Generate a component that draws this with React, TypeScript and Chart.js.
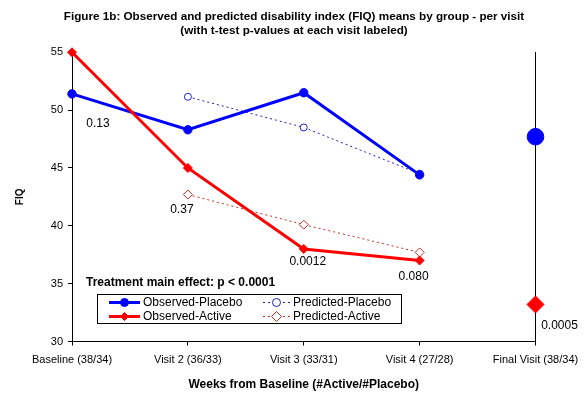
import React, { useEffect, useRef } from 'react';
import { Chart, registerables } from 'chart.js';

Chart.register(...registerables);

// ---- data ----
const categories = ['Baseline (38/34)', 'Visit 2 (36/33)', 'Visit 3 (33/31)', 'Visit 4 (27/28)', 'Final Visit (38/34)'];
const observedPlacebo = [51.4, 48.3, 51.5, 44.4, null];
const observedActive = [55.0, 45.0, 38.0, 37.0, null];
const predictedPlacebo = [null, 51.15, 48.5, 44.5, null];
const predictedActive = [null, 42.7, 40.1, 37.7, null];
const finalPlacebo = [null, null, null, null, 47.7];
const finalActive = [null, null, null, null, 33.2];
const pValueLabels = ['0.13', '0.37', '0.0012', '0.080', '0.0005'];
const pValueLevels = [48.8, 41.4, 36.9, 35.6, 31.4];
const pValueShift = [26, -6, 4, -6, 24];
const yMin = 30;
const yMax = 55;
const yStep = 5;
const mainEffectText = 'Treatment main effect: p < 0.0001';
const mainEffectLevel = 35.1;
const titleLines = [
  'Figure 1b: Observed and predicted disability index (FIQ) means by group - per visit',
  '(with t-test p-values at each visit labeled)',
];
const xTitle = 'Weeks from Baseline (#Active/#Placebo)';
const yTitle = 'FIQ';

const NARROW = '"Liberation Sans Narrow", "Arial Narrow", "Liberation Sans", Arial, sans-serif';
const SANS = '"Liberation Sans", Arial, sans-serif';

const BLUE = '#0000FF';
const RED = '#FF0000';
const PBLUE = '#2020C8';
const PRED = '#D02828';

const legendItems = [
  { label: 'Observed-Placebo', color: BLUE, dash: [] as number[], width: 3, style: 'circle', fill: true },
  { label: 'Predicted-Placebo', color: PBLUE, dash: [2, 3], width: 1, style: 'circle', fill: false },
  { label: 'Observed-Active', color: RED, dash: [] as number[], width: 3, style: 'rectRot', fill: true },
  { label: 'Predicted-Active', color: PRED, dash: [2, 3], width: 1, style: 'rectRot', fill: false },
];

function drawMarker(ctx: CanvasRenderingContext2D, style: string, x: number, y: number, r: number, color: string, fill: boolean) {
  ctx.save();
  ctx.setLineDash([]);
  ctx.beginPath();
  if (style === 'circle') {
    ctx.arc(x, y, r, 0, Math.PI * 2);
  } else {
    ctx.moveTo(x, y - r);
    ctx.lineTo(x + r, y);
    ctx.lineTo(x, y + r);
    ctx.lineTo(x - r, y);
    ctx.closePath();
  }
  ctx.lineWidth = 1;
  ctx.strokeStyle = color;
  ctx.fillStyle = fill ? color : '#fff';
  ctx.fill();
  ctx.stroke();
  ctx.restore();
}

const annotationPlugin = {
  id: 'annotations',
  afterDatasetsDraw(chart: any) {
    const { ctx, scales, chartArea } = chart;
    const xs = scales.x;
    const ys = scales.y;
    ctx.save();
    ctx.fillStyle = '#000';
    ctx.textBaseline = 'middle';
    ctx.textAlign = 'center';
    ctx.font = `12px ${SANS}`;
    pValueLabels.forEach((t, i) => {
      ctx.fillText(t, xs.getPixelForValue(i) + pValueShift[i], ys.getPixelForValue(pValueLevels[i]));
    });
    ctx.textAlign = 'left';
    ctx.font = `bold 12px ${NARROW}`;
    ctx.fillText(mainEffectText, chartArea.left + 14, ys.getPixelForValue(mainEffectLevel));

    // legend
    const bx = chartArea.left + 25;
    const by = 294;
    const bw = 304;
    const bh = 29;
    ctx.fillStyle = '#fff';
    ctx.fillRect(bx, by, bw, bh);
    ctx.strokeStyle = '#000';
    ctx.lineWidth = 1;
    ctx.setLineDash([]);
    ctx.strokeRect(bx + 0.5, by + 0.5, bw, bh);
    ctx.font = `12px ${SANS}`;
    ctx.textAlign = 'left';
    legendItems.forEach((it, i) => {
      const col = i % 2;
      const row = Math.floor(i / 2);
      const lx = bx + (col === 0 ? 12 : 166);
      const ly = by + 8.5 + row * 14;
      const lw = col === 0 ? 31 : 27;
      ctx.save();
      ctx.strokeStyle = it.color;
      ctx.lineWidth = it.width;
      ctx.setLineDash(it.dash);
      ctx.beginPath();
      ctx.moveTo(lx, ly);
      ctx.lineTo(lx + lw, ly);
      ctx.stroke();
      ctx.restore();
      drawMarker(ctx, it.style, lx + lw / 2, ly, it.fill ? 4 : (it.style === 'circle' ? 4 : 5), it.color, it.fill);
      ctx.fillStyle = '#000';
      ctx.fillText(it.label, lx + lw + 3, ly + 0.5);
    });
    ctx.restore();
  },
};

export default function App() {
  const ref = useRef<HTMLCanvasElement>(null);
  useEffect(() => {
    document.body.style.margin = '0';
    const chart = new Chart(ref.current as HTMLCanvasElement, {
      type: 'line',
      data: {
        labels: categories,
        datasets: [
          {
            label: 'Observed-Active', data: observedActive as any, borderColor: RED, backgroundColor: RED,
            borderWidth: 3, pointStyle: 'rectRot', pointRadius: 4.5, pointBorderWidth: 1, clip: false as any,
          },
          {
            label: 'Observed-Placebo', data: observedPlacebo as any, borderColor: BLUE, backgroundColor: BLUE,
            borderWidth: 3, pointStyle: 'circle', pointRadius: 4.2, pointBorderWidth: 1, clip: false as any,
          },
          {
            label: 'Predicted-Placebo', data: predictedPlacebo as any, borderColor: PBLUE, backgroundColor: '#fff',
            borderWidth: 1, borderDash: [2, 3], pointStyle: 'circle', pointRadius: 3.5, pointBorderWidth: 1,
          },
          {
            label: 'Predicted-Active', data: predictedActive as any, borderColor: PRED, backgroundColor: '#fff',
            borderWidth: 1, borderDash: [2, 3], pointStyle: 'rectRot', pointRadius: 4.5, pointBorderWidth: 1,
          },
          {
            label: 'Final-Placebo', data: finalPlacebo as any, borderColor: BLUE, backgroundColor: BLUE,
            showLine: false, pointStyle: 'circle', pointRadius: 8.3, pointBorderWidth: 1, clip: false as any,
          },
          {
            label: 'Final-Active', data: finalActive as any, borderColor: RED, backgroundColor: RED,
            showLine: false, pointStyle: 'rectRot', pointRadius: 8.5, pointBorderWidth: 1, clip: false as any,
          },
        ],
      },
      options: {
        responsive: false,
        animation: false,
        layout: { padding: 0 },
        plugins: {
          legend: { display: false },
          tooltip: { enabled: false },
          title: {
            display: true,
            text: titleLines,
            color: '#000',
            font: { family: NARROW, size: 11.7, weight: 'bold', lineHeight: 1.25 },
            padding: { top: 9, bottom: 14 },
          },
        },
        scales: {
          x: {
            type: 'category',
            offset: false,
            afterFit: (s: any) => { s.height = 52.5; },
            border: { color: '#000', width: 1 },
            grid: { drawOnChartArea: false, drawTicks: true, tickLength: 4, tickColor: '#000' },
            ticks: { color: '#000', font: { family: SANS, size: 11 }, padding: 8, maxRotation: 0, autoSkip: false },
            title: {
              display: true, text: xTitle, color: '#000',
              font: { family: NARROW, size: 12, weight: 'bold', lineHeight: 1.25 },
              padding: { top: 0, bottom: 2 },
            },
          },
          y: {
            type: 'linear',
            position: 'left',
            min: yMin,
            max: yMax,
            afterFit: (s: any) => { s.width = 72; },
            border: { color: '#000', width: 1 },
            grid: { drawOnChartArea: false, drawTicks: true, tickLength: 4, tickColor: '#000' },
            ticks: { stepSize: yStep, color: '#000', font: { family: SANS, size: 11 }, padding: 5 },
            title: {
              display: true, text: yTitle, color: '#000',
              font: { family: NARROW, size: 10, weight: 'bold', lineHeight: 1.2 },
              padding: { top: 14, bottom: 0 },
            },
          },
          y2: {
            type: 'linear',
            position: 'right',
            min: yMin,
            max: yMax,
            afterFit: (s: any) => { s.width = 52.5; },
            border: { display: true, color: '#000', width: 1 },
            grid: { display: true, drawOnChartArea: false, drawTicks: false },
            ticks: { display: false },
          },
        },
      },
      plugins: [annotationPlugin],
    } as any);
    return () => chart.destroy();
  }, []);
  return (
    <div style={{ width: 588, height: 394, background: '#fff' }}>
      <canvas ref={ref} width={588} height={394} style={{ display: 'block' }} />
    </div>
  );
}
